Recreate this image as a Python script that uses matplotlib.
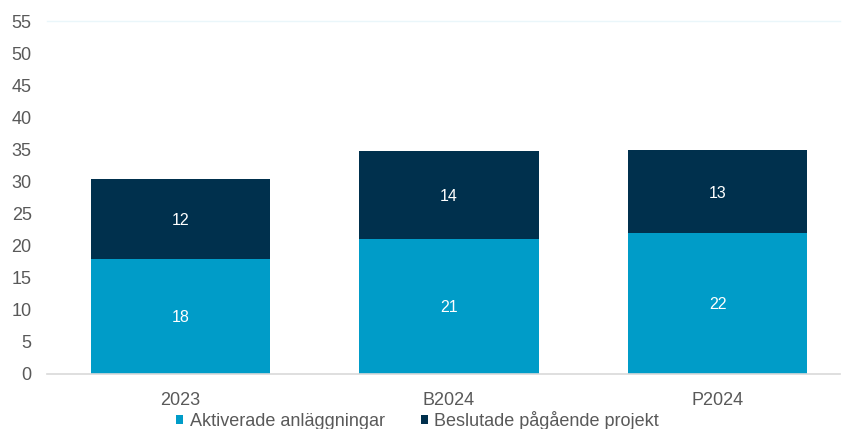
import numpy as np
import matplotlib.pyplot as plt

plt.rcParams['font.family'] = ['Liberation Sans', 'DejaVu Sans']

# data
kategorier = ['2023', 'B2024', 'P2024']
aktiverade = [17.9, 21.0, 21.9]
beslutade = [12.4, 13.7, 12.9]
serienamn = ['Aktiverade anläggningar', 'Beslutade pågående projekt']

ljusbla = '#009CC8'
morkbla = '#00304D'
grå = '#595959'

W, H = 842, 429
fig = plt.figure(figsize=(W / 100, H / 100), dpi=100)
ax = fig.add_axes([47 / W, 1 - 373.5 / H, (840 - 47) / W, (373.5 - 21) / H])

x = np.arange(len(kategorier))
b1 = ax.bar(x, aktiverade, width=0.667, color=ljusbla, label=serienamn[0])
b2 = ax.bar(x, beslutade, width=0.667, bottom=aktiverade, color=morkbla, label=serienamn[1])

# etiketter i staplarna
for rects, vals, bas in [(b1, aktiverade, [0, 0, 0]), (b2, beslutade, aktiverade)]:
    for r, v, b in zip(rects, vals, bas):
        ax.text(r.get_x() + r.get_width() / 2, b + v / 2, f'{v:.0f}',
                ha='center', va='center_baseline', color='white', fontsize=11.5)

ax.set_ylim(0, 55)
ax.set_yticks(np.arange(0, 56, 5))
ax.set_xlim(-0.497, 2.456)
ax.set_xticks(x)
ax.set_xticklabels(kategorier)
ax.tick_params(axis='both', length=0, labelsize=13, labelcolor=grå)
ax.tick_params(axis='y', pad=11)
ax.tick_params(axis='x', pad=13)

for s in ['top', 'right', 'left']:
    ax.spines[s].set_visible(False)
ax.spines['bottom'].set_color('#d9d9d9')
ax.spines['bottom'].set_linewidth(1.2)
ax.axhline(55, color='#eaf6fa', linewidth=1, clip_on=False)

leg = fig.legend(loc='lower left', bbox_to_anchor=(160 / W, -0.04), ncol=2, frameon=False,
                 fontsize=13, handlelength=0.4, handleheight=0.4, handletextpad=0.35,
                 columnspacing=2.0, labelcolor=grå)

fig.savefig('out.png', dpi=100)
